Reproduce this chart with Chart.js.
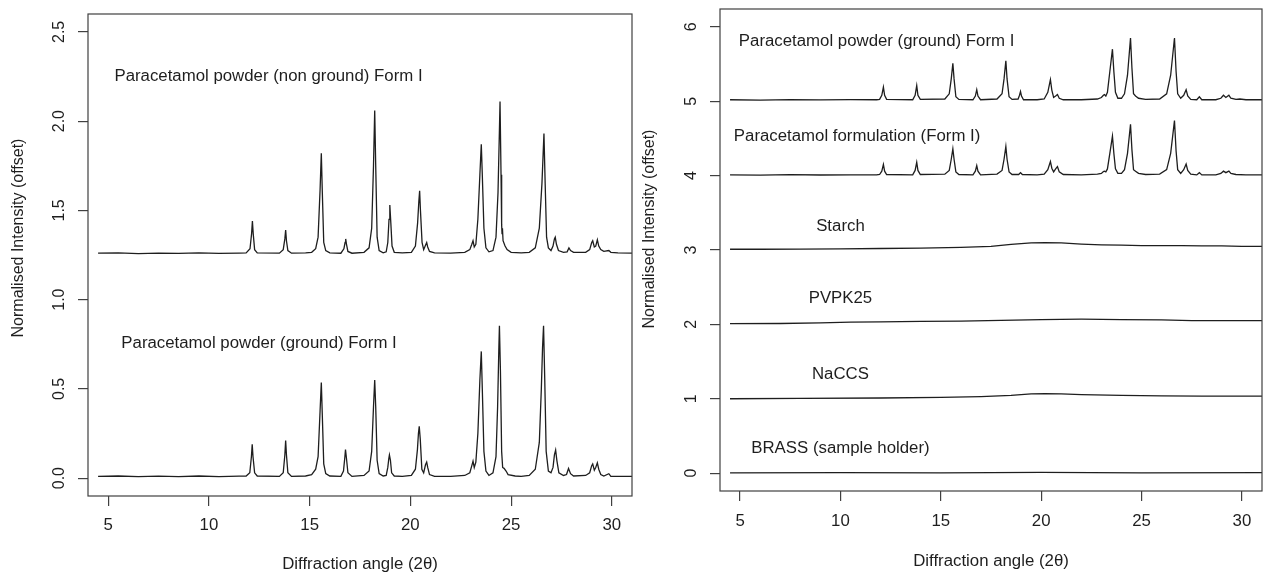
<!DOCTYPE html>
<html><head><meta charset="utf-8">
<script src="https://cdn.jsdelivr.net/npm/chart.js@4.4.0/dist/chart.umd.min.js"></script>
<style>
html,body{margin:0;padding:0;background:#fff;}
#wrap{position:relative;width:1263px;height:576px;overflow:hidden;background:#fff;}
canvas{position:absolute;top:0;}
#c1{left:0;} #c2{left:640px;}
</style></head><body>
<div id="wrap"><canvas id="c1" width="640" height="576"></canvas><canvas id="c2" width="623" height="576"></canvas></div>
<script>
// ---------------- DATA ----------------
const xTicks = [5, 10, 15, 20, 25, 30];
const xTickLabels = ['5', '10', '15', '20', '25', '30'];
const leftYTicks = [0, 0.5, 1, 1.5, 2, 2.5];
const leftYTickLabels = ['0.0', '0.5', '1.0', '1.5', '2.0', '2.5'];
const rightYTicks = [0, 1, 2, 3, 4, 5, 6];
const rightYTickLabels = ['0', '1', '2', '3', '4', '5', '6'];
const xTitle = 'Diffraction angle (2\u03B8)';
const yTitle = 'Normalised Intensity (offset)';

// Left panel: Paracetamol powder (non ground) Form I  [2theta, intensity]
const leftNonGround = [
[4.5,1.26],[5.5,1.262],[6.5,1.258],[7.5,1.261],[8.5,1.259],[9.5,1.262],[10.5,1.259],[11.5,1.261],
[11.85,1.262],[12.04,1.285],[12.12,1.37],[12.16,1.44],[12.2,1.37],[12.27,1.28],[12.4,1.262],
[13.5,1.26],[13.69,1.28],[13.77,1.34],[13.81,1.39],[13.85,1.33],[13.92,1.275],[14.1,1.26],
[14.8,1.262],[15.1,1.265],[15.3,1.285],[15.42,1.35],[15.52,1.62],[15.58,1.82],[15.63,1.6],[15.7,1.32],[15.8,1.275],[16.0,1.262],
[16.55,1.26],[16.7,1.285],[16.76,1.32],[16.79,1.34],[16.83,1.31],[16.9,1.27],[17.1,1.26],
[17.7,1.265],[17.95,1.29],[18.08,1.4],[18.17,1.75],[18.23,2.06],[18.28,1.75],[18.35,1.35],[18.45,1.275],[18.65,1.262],
[18.8,1.268],[18.88,1.32],[18.94,1.45],[18.98,1.53],[19.03,1.43],[19.09,1.3],[19.2,1.265],[19.6,1.262],
[20.05,1.265],[20.25,1.3],[20.36,1.43],[20.42,1.55],[20.46,1.61],[20.5,1.5],[20.58,1.32],[20.66,1.28],[20.75,1.305],[20.81,1.32],[20.86,1.295],[20.95,1.27],[21.2,1.262],
[22.0,1.26],[22.7,1.265],[22.95,1.28],[23.05,1.31],[23.11,1.33],[23.17,1.295],[23.25,1.31],[23.35,1.45],[23.45,1.7],[23.52,1.87],[23.57,1.7],[23.65,1.4],[23.75,1.29],[23.9,1.268],
[24.1,1.275],[24.25,1.35],[24.35,1.6],[24.42,1.95],[24.45,2.11],[24.5,1.7],[24.53,1.42],[24.55,1.37],[24.57,1.40],[24.6,1.33],[24.7,1.30],[24.8,1.28],[25.0,1.265],[25.5,1.262],
[25.9,1.265],[26.2,1.29],[26.4,1.4],[26.53,1.65],[26.63,1.93],[26.69,1.65],[26.76,1.35],[26.85,1.29],[26.98,1.275],
[27.08,1.30],[27.15,1.34],[27.19,1.35],[27.25,1.31],[27.35,1.275],[27.6,1.265],
[27.78,1.268],[27.87,1.29],[27.95,1.275],[28.1,1.265],[28.7,1.265],
[28.9,1.28],[29.0,1.32],[29.05,1.33],[29.13,1.295],[29.2,1.30],[29.28,1.335],[29.35,1.30],[29.45,1.28],[29.6,1.27],[29.85,1.275],[29.95,1.265],[30.3,1.262],[31,1.26]
];

// Left panel: Paracetamol powder (ground) Form I
const leftGround = [
[4.5,0.01],[5.5,0.012],[6.5,0.008],[7.5,0.011],[8.5,0.009],[9.5,0.012],[10.5,0.009],[11.5,0.011],
[11.85,0.012],[12.03,0.03],[12.11,0.12],[12.15,0.19],[12.19,0.12],[12.27,0.03],[12.4,0.012],
[13.5,0.01],[13.69,0.03],[13.77,0.13],[13.81,0.21],[13.85,0.13],[13.92,0.03],[14.1,0.01],
[14.8,0.012],[15.1,0.02],[15.3,0.05],[15.42,0.12],[15.52,0.38],[15.58,0.535],[15.63,0.35],[15.7,0.08],[15.8,0.025],[16.0,0.012],
[16.55,0.01],[16.68,0.04],[16.75,0.12],[16.78,0.16],[16.82,0.12],[16.9,0.03],[17.1,0.01],
[17.7,0.015],[17.95,0.04],[18.08,0.15],[18.17,0.4],[18.23,0.55],[18.28,0.4],[18.35,0.1],[18.45,0.025],[18.65,0.012],
[18.8,0.015],[18.88,0.06],[18.93,0.11],[18.96,0.13],[19.01,0.1],[19.07,0.03],[19.2,0.012],[19.6,0.01],
[20.05,0.015],[20.25,0.05],[20.35,0.16],[20.4,0.25],[20.44,0.29],[20.49,0.22],[20.57,0.05],[20.66,0.03],[20.75,0.075],[20.81,0.09],[20.86,0.06],[20.95,0.02],[21.2,0.01],
[22.0,0.01],[22.7,0.015],[22.95,0.03],[23.05,0.07],[23.11,0.095],[23.17,0.06],[23.25,0.09],[23.35,0.25],[23.45,0.55],[23.52,0.71],[23.57,0.5],[23.65,0.15],[23.75,0.04],[23.9,0.015],
[24.1,0.03],[24.25,0.12],[24.33,0.4],[24.39,0.72],[24.42,0.853],[24.47,0.6],[24.53,0.15],[24.58,0.06],[24.65,0.055],[24.75,0.04],[24.85,0.02],[25.2,0.012],[25.5,0.01],
[25.9,0.015],[26.2,0.05],[26.4,0.2],[26.5,0.5],[26.56,0.73],[26.61,0.853],[26.67,0.55],[26.74,0.15],[26.85,0.04],[26.98,0.03],
[27.08,0.06],[27.15,0.13],[27.21,0.157],[27.27,0.1],[27.37,0.03],[27.6,0.015],
[27.75,0.02],[27.85,0.054],[27.95,0.025],[28.1,0.012],[28.7,0.015],
[28.9,0.03],[29.0,0.07],[29.05,0.08],[29.13,0.045],[29.2,0.06],[29.28,0.086],[29.35,0.05],[29.45,0.02],[29.6,0.012],[29.85,0.025],[29.95,0.01],[30.3,0.01],[31,0.01]
];

// Right panel: Paracetamol powder (ground) Form I (offset 5)
const rightGround = [
[4.5,5.02],[6,5.015],[7.5,5.022],[9,5.018],[10.5,5.021],[11.8,5.02],
[11.95,5.025],[12.06,5.08],[12.14,5.19],[12.2,5.08],[12.3,5.025],
[13.6,5.02],[13.72,5.08],[13.8,5.21],[13.86,5.08],[13.98,5.025],
[15.2,5.03],[15.42,5.1],[15.52,5.3],[15.6,5.51],[15.66,5.3],[15.75,5.06],[15.9,5.025],
[16.6,5.02],[16.72,5.07],[16.79,5.155],[16.85,5.07],[16.98,5.02],
[17.8,5.03],[18.05,5.1],[18.15,5.3],[18.24,5.545],[18.3,5.3],[18.4,5.06],[18.55,5.025],
[18.85,5.03],[18.92,5.08],[18.97,5.13],[19.02,5.07],[19.12,5.02],[19.8,5.02],
[20.15,5.03],[20.33,5.12],[20.46,5.29],[20.53,5.15],[20.62,5.05],[20.72,5.07],[20.81,5.09],[20.9,5.04],[21.1,5.02],
[22.0,5.02],[22.8,5.03],[23.0,5.05],[23.1,5.08],[23.15,5.09],[23.22,5.07],[23.3,5.12],[23.42,5.4],[23.55,5.70],[23.62,5.4],[23.7,5.12],[23.82,5.04],[24.0,5.04],
[24.15,5.1],[24.3,5.35],[24.45,5.85],[24.52,5.45],[24.6,5.1],[24.7,5.07],[24.85,5.04],[25.2,5.025],
[25.9,5.03],[26.25,5.1],[26.45,5.35],[26.64,5.85],[26.72,5.4],[26.8,5.1],[26.95,5.04],
[27.1,5.08],[27.22,5.155],[27.3,5.07],[27.45,5.025],
[27.75,5.02],[27.88,5.06],[28.0,5.02],[28.7,5.02],
[28.95,5.04],[29.08,5.08],[29.2,5.05],[29.35,5.08],[29.45,5.04],[29.7,5.025],[29.9,5.03],[30.2,5.02],[31,5.02]
];

// Right panel: Paracetamol formulation (Form I) (offset 4)
const rightFormulation = [
[4.5,4.01],[6,4.006],[7.5,4.012],[9,4.008],[10.5,4.011],[11.8,4.01],
[11.95,4.015],[12.06,4.06],[12.14,4.15],[12.2,4.06],[12.3,4.015],
[13.6,4.01],[13.72,4.07],[13.8,4.18],[13.86,4.07],[13.98,4.015],
[15.2,4.02],[15.42,4.07],[15.52,4.22],[15.6,4.36],[15.66,4.22],[15.75,4.05],[15.9,4.015],
[16.6,4.01],[16.72,4.06],[16.79,4.135],[16.85,4.06],[16.98,4.01],
[17.8,4.02],[18.05,4.07],[18.15,4.22],[18.24,4.39],[18.3,4.22],[18.4,4.05],[18.55,4.015],
[18.88,4.015],[18.97,4.04],[19.06,4.015],[19.8,4.01],
[20.15,4.02],[20.33,4.08],[20.46,4.19],[20.53,4.1],[20.62,4.05],[20.72,4.09],[20.81,4.12],[20.9,4.05],[21.1,4.015],
[22.0,4.01],[22.8,4.02],[23.0,4.03],[23.1,4.055],[23.15,4.06],[23.22,4.05],[23.3,4.09],[23.42,4.3],[23.55,4.53],[23.62,4.3],[23.7,4.09],[23.82,4.03],[24.0,4.03],
[24.15,4.08],[24.3,4.3],[24.45,4.69],[24.52,4.35],[24.6,4.08],[24.7,4.06],[24.85,4.03],[25.2,4.015],
[25.9,4.02],[26.25,4.08],[26.45,4.3],[26.64,4.74],[26.72,4.33],[26.8,4.08],[26.95,4.03],
[27.1,4.08],[27.22,4.155],[27.3,4.07],[27.45,4.02],
[27.75,4.01],[27.88,4.04],[28.0,4.01],[28.7,4.01],
[28.95,4.03],[29.08,4.06],[29.2,4.04],[29.35,4.06],[29.45,4.03],[29.7,4.015],[30.2,4.01],[31,4.01]
];

// Right panel: Starch (offset 3)
const rightStarch = [
[4.5,3.01],[6,3.01],[8,3.012],[10,3.015],[12,3.02],[14,3.025],[16,3.035],[17.5,3.05],[18.5,3.075],[19.5,3.095],[20.2,3.1],[21,3.095],[22,3.08],[23,3.07],[24,3.065],[25,3.06],[26,3.06],[27,3.058],[28,3.055],[29,3.055],[30,3.05],[31,3.05]
];
// Right panel: PVPK25 (offset 2)
const rightPVPK25 = [
[4.5,2.01],[7,2.012],[9,2.02],[10.5,2.03],[12,2.035],[14,2.04],[16,2.045],[18,2.055],[20,2.065],[22,2.07],[24,2.065],[26,2.06],[27.5,2.05],[29,2.05],[31,2.05]
];
// Right panel: NaCCS (offset 1)
const rightNaCCS = [
[4.5,1.0],[8,1.005],[12,1.01],[15,1.02],[17,1.03],[18.5,1.045],[19.5,1.065],[20.2,1.07],[21,1.065],[22,1.055],[24,1.045],[26,1.04],[28,1.035],[31,1.035]
];
// Right panel: BRASS (sample holder) (offset 0)
const rightBrass = [
[4.5,0.005],[10,0.008],[15,0.005],[20,0.01],[25,0.005],[31,0.008]
];

const leftLabels = ['Paracetamol powder (non ground) Form I', 'Paracetamol powder (ground) Form I'];
const rightLabels = ['Paracetamol powder (ground) Form I', 'Paracetamol formulation (Form I)', 'Starch', 'PVPK25', 'NaCCS', 'BRASS (sample holder)'];

// ---------------- PLACEMENT (data coords of labels) ----------------
const leftLabelPos = [[12.96, 2.25], [12.49, 0.755]];
const rightLabelPos = [[11.8, 5.8], [10.83, 4.52], [10, 3.32], [10, 2.34], [10, 1.33], [10, 0.334]];

// ---------------- RENDER ----------------
const FONT = '16px "Liberation Sans", Arial, Helvetica, sans-serif';
const STRETCH = 1.05;
const TEXT_COLOR = '#1e1e1e';
const LINE_COLOR = '#1e1e1e';

function txt(ctx, s, x, y, rot) {
  ctx.save();
  ctx.translate(x, y);
  ctx.scale(STRETCH, 1);
  if (rot) ctx.rotate(-Math.PI / 2);
  ctx.fillText(s, 0, 0);
  ctx.restore();
}

function toPts(arr) { return arr.map(p => ({ x: p[0], y: p[1] })); }

function makeChart(id, series, opts) {
  const textPlugin = {
    id: 'rtext' + id,
    afterDraw(chart) {
      const ctx = chart.ctx, a = chart.chartArea;
      const xs = chart.scales.x, ys = chart.scales.y;
      ctx.save();
      ctx.strokeStyle = '#404040';
      ctx.lineWidth = 1.2;
      ctx.strokeRect(a.left, a.top, a.right - a.left, a.bottom - a.top);
      ctx.fillStyle = TEXT_COLOR;
      ctx.font = FONT;
      ctx.textAlign = 'center';
      ctx.textBaseline = 'middle';
      xTicks.forEach((v, i) => txt(ctx, xTickLabels[i], xs.getPixelForValue(v), a.bottom + opts.xLabelOff, false));
      opts.yTicks.forEach((v, i) => txt(ctx, opts.yTickLabels[i], a.left - 29, ys.getPixelForValue(v), true));
      txt(ctx, xTitle, (a.left + a.right) / 2, opts.xTitleY, false);
      txt(ctx, yTitle, opts.yTitleX, opts.yTitleY, true);
      opts.labels.forEach((s, i) => {
        const p = opts.labelPos[i];
        txt(ctx, s, xs.getPixelForValue(p[0]), ys.getPixelForValue(p[1]), false);
      });
      ctx.restore();
    }
  };
  return new Chart(document.getElementById(id), {
    type: 'scatter',
    data: {
      datasets: series.map(s => ({
        data: toPts(s), showLine: true, pointRadius: 0, pointHoverRadius: 0,
        borderColor: LINE_COLOR, borderWidth: 1.3, tension: 0, fill: false
      }))
    },
    options: {
      responsive: false, animation: false, devicePixelRatio: 1,
      events: [],
      layout: { padding: opts.padding },
      plugins: { legend: { display: false }, tooltip: { enabled: false } },
      scales: {
        x: {
          type: 'linear', min: 4, max: 31, position: 'bottom',
          afterBuildTicks: sc => { sc.ticks = xTicks.map(v => ({ value: v })); },
          afterFit: sc => { sc.height = opts.xHeight; },
          ticks: { display: false },
          grid: { display: true, drawOnChartArea: false, drawTicks: true, tickLength: 10, color: '#404040', lineWidth: 1.2 },
          border: { display: false }
        },
        y: {
          type: 'linear', min: opts.yMin, max: opts.yMax, position: 'left',
          afterBuildTicks: sc => { sc.ticks = opts.yTicks.map(v => ({ value: v })); },
          afterFit: sc => { sc.width = opts.yWidth; },
          ticks: { display: false },
          grid: { display: true, drawOnChartArea: false, drawTicks: true, tickLength: 10, color: '#404040', lineWidth: 1.2 },
          border: { display: false }
        }
      }
    },
    plugins: [textPlugin]
  });
}

makeChart('c1', [leftNonGround, leftGround], {
  yMin: -0.1, yMax: 2.6, yTicks: leftYTicks, yTickLabels: leftYTickLabels,
  padding: { top: 14, right: 8, left: 0, bottom: 0 }, yWidth: 88, xHeight: 80,
  xLabelOff: 30, xTitleY: 565, yTitleX: 18, yTitleY: 238,
  labels: leftLabels, labelPos: leftLabelPos
});
makeChart('c2', [rightGround, rightFormulation, rightStarch, rightPVPK25, rightNaCCS, rightBrass], {
  yMin: -0.24, yMax: 6.24, yTicks: rightYTicks, yTickLabels: rightYTickLabels,
  padding: { top: 9, right: 1, left: 0, bottom: 0 }, yWidth: 80, xHeight: 85,
  xLabelOff: 31, xTitleY: 562, yTitleX: 9, yTitleY: 229,
  labels: rightLabels, labelPos: rightLabelPos
});
</script>
</body></html>
